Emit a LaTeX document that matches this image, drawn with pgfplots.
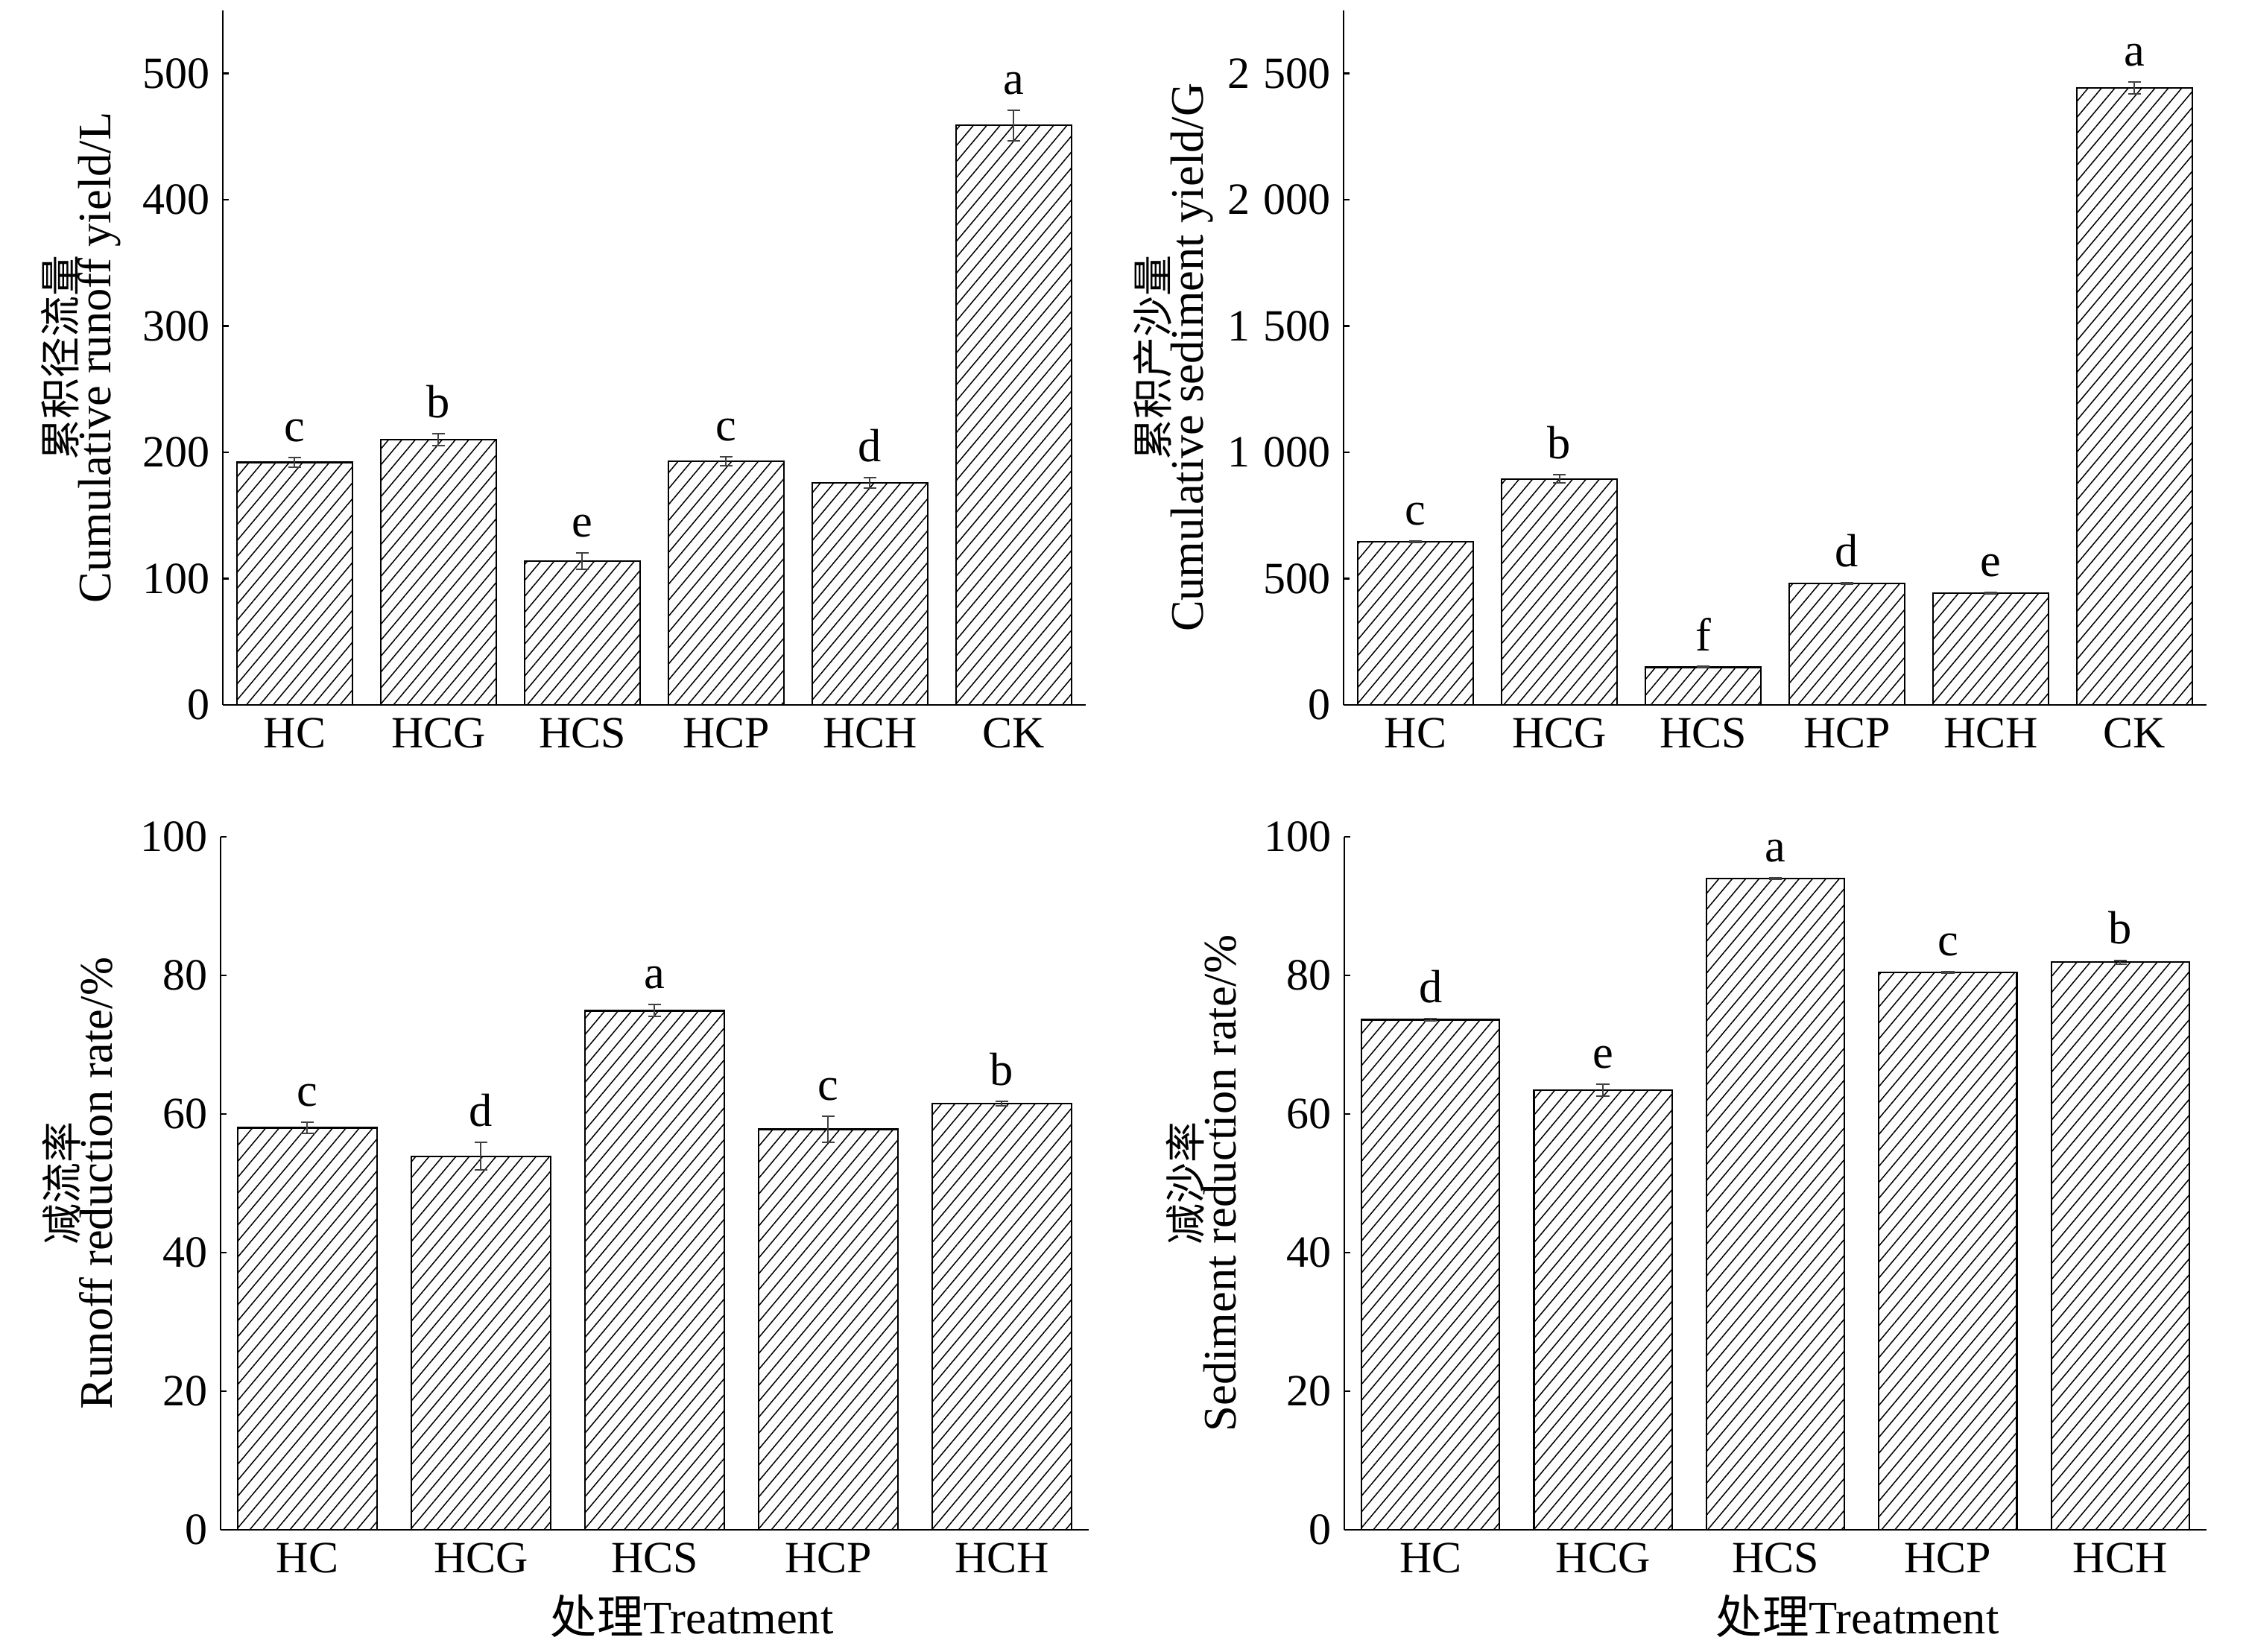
\documentclass[border=0pt]{standalone}
\usepackage{fontspec}
\setmainfont{Liberation Serif}
\newfontfamily\cjk{Noto Sans CJK SC}
\usepackage{pgfplots}
\usepackage{pgfplotstable}
\pgfplotsset{compat=1.18}
\usetikzlibrary{patterns.meta}

% x y err letter
\pgfplotstableread{
x y e l
0 192 4 c
1 210 4.5 b
2 114 6.5 e
3 193 3.5 c
4 176 4 d
5 459 12 a
}\runoff
\pgfplotstableread{
x y e l
0 646 3 c
1 895 16 b
2 149 3 f
3 481 3 d
4 442 3 e
5 2443 23 a
}\sediment
\pgfplotstableread{
x y e l
0 58.0 0.85 c
1 53.9 2.0 d
2 74.9 0.85 a
3 57.8 1.85 c
4 61.5 0.3 b
}\runred
\pgfplotstableread{
x y e l
0 73.6 0.15 d
1 63.4 0.85 e
2 94.0 0.1 a
3 80.4 0.1 c
4 81.9 0.3 b
}\sedred

\newcommand{\zh}[1]{{\cjk\fontsize{11}{11}\selectfont #1}}

\pgfplotsset{
  panel/.style={
    scale only axis, anchor=south west, clip=false,
    axis x line=bottom, axis y line=left,
    axis line style={-, line width=0.5pt},
    xtick=data, xmin=-0.5, ymin=0,
    major x tick style={draw=none},
    ytick style={line width=0.5pt, black}, tick align=inside, major tick length=1.6pt,
    tick label style={font=\fontsize{12}{14}\selectfont},
    /pgf/number format/assume math mode=true,
    ylabel style={font=\fontsize{12.5}{13}\selectfont, align=center},
    xlabel style={font=\fontsize{12.5}{14}\selectfont},
  },
  hatched/.style={
    ybar, bar width=0.8, draw=black, line width=0.45pt,
    pattern={Lines[angle=50, distance=2.75pt, line width=0.3pt]},
    error bars/.cd, y dir=both, y explicit,
    error bar style={line width=0.4pt, black!75},
    error mark options={rotate=90, mark size=1.75pt, line width=0.4pt, black!75},
  },
  letters/.style={
    draw=none, mark=none, nodes near coords, point meta=explicit symbolic,
    nodes near coords style={anchor=south, inner sep=0pt, yshift=4pt,
      font=\fontsize{12.5}{14}\selectfont, black},
  },
}

\begin{document}
\begin{tikzpicture}
\useasboundingbox (0,0) rectangle (602.8pt,443.4pt);

% runoff yield
\begin{axis}[panel, at={(59.8pt,254.2pt)}, width=231.6pt, height=186.4pt,
    xmax=5.5, ymax=550, ytick={0,100,...,500},
    xticklabels={HC,HCG,HCS,HCP,HCH,CK}, ylabel shift=-1pt,
    ylabel={\zh{累积径流量}\\[-3.5pt]Cumulative runoff yield/L}]
  \addplot[hatched] table[x=x, y=y, y error=e] {\runoff};
  \addplot[letters] table[x=x, y expr=\thisrow{y}+\thisrow{e}, meta=l] {\runoff};
\end{axis}

% sediment yield
\begin{axis}[panel, at={(360.6pt,254.2pt)}, width=231.6pt, height=186.4pt,
    xmax=5.5, ymax=2750, ytick={0,500,...,2500},
    yticklabel style={/pgf/number format/1000 sep={\hspace{0.3em}}},
    xticklabels={HC,HCG,HCS,HCP,HCH,CK}, ylabel shift=-3pt,
    ylabel={\zh{累积产沙量}\\[-3.5pt]Cumulative sediment yield/G}]
  \addplot[hatched] table[x=x, y=y, y error=e] {\sediment};
  \addplot[letters] table[x=x, y expr=\thisrow{y}+\thisrow{e}, meta=l] {\sediment};
\end{axis}

% runoff reduction
\begin{axis}[panel, at={(59.2pt,32.8pt)}, width=233pt, height=186pt,
    xmax=4.5, ymax=100, ytick={0,20,...,100},
    xticklabels={HC,HCG,HCS,HCP,HCH}, ylabel shift=0.5pt,
    ylabel={\zh{减流率}\\[-3.5pt]Runoff reduction rate/\%},
    xlabel={{\cjk 处理}Treatment}, xlabel style={xshift=10pt, yshift=1pt}]
  \addplot[hatched] table[x=x, y=y, y error=e] {\runred};
  \addplot[letters] table[x=x, y expr=\thisrow{y}+\thisrow{e}, meta=l] {\runred};
\end{axis}

% sediment reduction
\begin{axis}[panel, at={(360.8pt,32.8pt)}, width=231.4pt, height=186pt,
    xmax=4.5, ymax=100, ytick={0,20,...,100},
    xticklabels={HC,HCG,HCS,HCP,HCH}, ylabel shift=0.5pt,
    ylabel={\zh{减沙率}\\[-3.5pt]Sediment reduction rate/\%},
    xlabel={{\cjk 处理}Treatment}, xlabel style={xshift=22pt, yshift=1pt}]
  \addplot[hatched] table[x=x, y=y, y error=e] {\sedred};
  \addplot[letters] table[x=x, y expr=\thisrow{y}+\thisrow{e}, meta=l] {\sedred};
\end{axis}
\end{tikzpicture}
\end{document}
